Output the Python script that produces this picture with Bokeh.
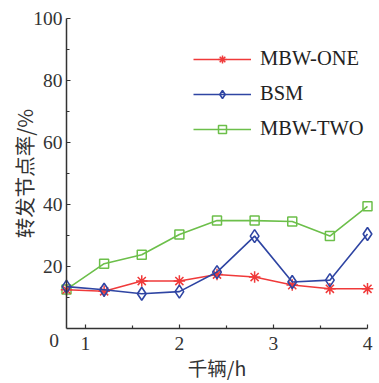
from bokeh.plotting import figure
from bokeh.models import Range1d, FixedTicker, Legend, LegendItem, Label
from bokeh.embed import file_html
from bokeh.resources import INLINE

# ---- data ----
x = [0.8, 1.2, 1.6, 2.0, 2.4, 2.8, 3.2, 3.6, 4.0]
mbw_one = [12.5, 12.0, 15.3, 15.3, 17.4, 16.6, 14.0, 12.8, 12.8]
bsm = [13.5, 12.5, 11.2, 11.9, 18.2, 29.8, 15.0, 15.6, 30.5]
mbw_two = [12.6, 20.9, 23.8, 30.3, 34.8, 34.8, 34.5, 29.8, 39.4]
series_names = ["MBW-ONE", "BSM", "MBW-TWO"]
x_ticks = [1, 2, 3, 4]
x_minor = [1.5, 2.5, 3.5]
y_ticks = [20, 40, 60, 80, 100]
y_minor = [10, 30, 50, 70, 90]
x_label = "千辆/h"
y_label = "转发节点率/%"
x_start, x_end = 0.8, 4.0
y_start, y_end = 0, 100

RED = "#f03a3a"
BLUE = "#2f45a3"
GREEN = "#6cbf4a"
AX = "#333333"
SERIF = "Times New Roman"
CJK = "Noto Sans CJK SC"

W, H = 379, 383
# pixel positions of the axes box inside the canvas
L, R, T, B = 66, 367, 18, 328
PX = (R - L) / (x_end - x_start)
PY = (B - T) / (y_end - y_start)

p = figure(frame_width=W, frame_height=H,
           x_range=Range1d(x_start - L / PX, x_end + (W - R) / PX),
           y_range=Range1d(y_start - (H - B) / PY, y_end + T / PY),
           output_backend="svg", toolbar_location=None,
           min_border_left=0, min_border_right=0,
           min_border_top=0, min_border_bottom=0)
p.outline_line_color = None
p.xgrid.grid_line_color = None
p.ygrid.grid_line_color = None
p.background_fill_color = "white"
p.border_fill_color = "white"

# lines + markers
g_line = p.line(x, mbw_two, line_color=GREEN, line_width=1.6)
g_mark = p.scatter(x, mbw_two, marker="square", size=9, line_color=GREEN,
                   fill_color=None, line_width=1.5)
r_line = p.line(x, mbw_one, line_color=RED, line_width=1.5)
r_mark = p.scatter(x, mbw_one, marker="asterisk", size=11.5, line_color=RED,
                   line_width=1.5)
b_line = p.line(x, bsm, line_color=BLUE, line_width=1.6)
b_mark = p.scatter(x, bsm, marker="diamond", size=13, line_color=BLUE,
                   fill_color=None, line_width=1.6)

# axes, fixed at the axes box edges
for ax in (p.xaxis[0], p.yaxis[0]):
    ax.axis_line_color = AX
    ax.axis_line_width = 1.5
    ax.major_tick_line_color = AX
    ax.minor_tick_line_color = AX
    ax.major_tick_line_width = 1.2
    ax.minor_tick_line_width = 1.2
    ax.major_tick_in = 4
    ax.major_tick_out = 0
    ax.minor_tick_in = 3
    ax.minor_tick_out = 0
    ax.major_label_text_font = SERIF
    ax.major_label_text_font_size = "19.5px"
    ax.major_label_text_color = AX
    ax.axis_label_text_font = CJK
    ax.axis_label_text_font_style = "normal"
    ax.axis_label_text_color = AX

xa = p.xaxis[0]
xa.ticker = FixedTicker(ticks=x_ticks, minor_ticks=x_minor)
xa.bounds = (x_start, x_end)
xa.fixed_location = y_start
xa.major_label_standoff = 8
xa.axis_label = x_label
xa.axis_label_text_font_size = "19.5px"
xa.axis_label_standoff = 0

ya = p.yaxis[0]
ya.ticker = FixedTicker(ticks=y_ticks, minor_ticks=y_minor)
ya.bounds = (y_start, y_end)
ya.fixed_location = x_start
ya.major_label_standoff = 4
ya.axis_label = y_label
ya.axis_label_text_font_size = "20.5px"
ya.axis_label_standoff = -9

zero = Label(x=x_start, y=y_start, text="0", x_offset=-12.5, y_offset=-12,
             text_align="center", text_baseline="middle",
             text_font=SERIF, text_font_size="19.5px", text_color=AX)
p.add_layout(zero)

legend = Legend(items=[
    LegendItem(label=series_names[0], renderers=[r_line, r_mark]),
    LegendItem(label=series_names[1], renderers=[b_line, b_mark]),
    LegendItem(label=series_names[2], renderers=[g_line, g_mark]),
], location=(193, 243))
legend.glyph_width = 58
legend.glyph_height = 20
legend.label_height = 20
legend.spacing = 12
legend.padding = 0
legend.margin = 0
legend.label_standoff = 9
legend.border_line_color = None
legend.background_fill_alpha = 0
legend.label_text_font = SERIF
legend.label_text_font_size = "20.5px"
legend.label_text_color = "#222222"
p.add_layout(legend, "center")

open("out.html", "w").write(file_html(p, INLINE))
